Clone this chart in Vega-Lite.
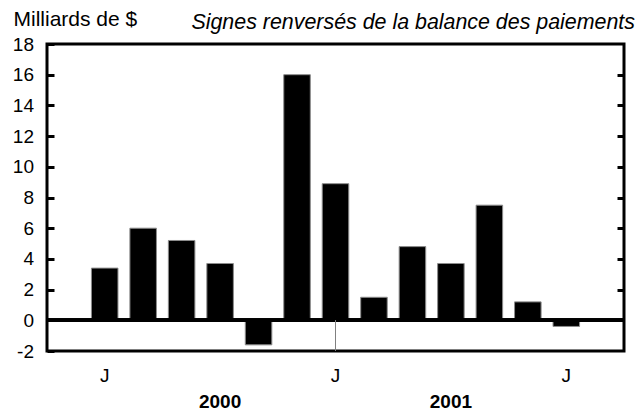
{
  "$schema": "https://vega.github.io/schema/vega-lite/v6.json",
  "autosize": "none",
  "width": 577,
  "height": 307,
  "padding": {"left": 47, "top": 44, "right": 13, "bottom": 63},
  "background": "white",
  "config": {
    "font": "Liberation Sans",
    "view": {"stroke": "black", "strokeWidth": 3},
    "axis": {"grid": false}
  },
  "title": {
    "text": "Signes renversés de la balance des paiements",
    "anchor": "end",
    "frame": "group",
    "fontSize": 21.4,
    "fontStyle": "italic",
    "fontWeight": "normal",
    "font": "Liberation Sans",
    "color": "black",
    "baseline": "alphabetic",
    "dx": 11,
    "dy": 17,
    "offset": -25
  },
  "data": {
    "values": [
      {"mois": "2000-07", "valeur": 3.4},
      {"mois": "2000-08", "valeur": 6.0},
      {"mois": "2000-09", "valeur": 5.2},
      {"mois": "2000-10", "valeur": 3.7},
      {"mois": "2000-11", "valeur": -1.6},
      {"mois": "2000-12", "valeur": 16.0},
      {"mois": "2001-01", "valeur": 8.9},
      {"mois": "2001-02", "valeur": 1.5},
      {"mois": "2001-03", "valeur": 4.8},
      {"mois": "2001-04", "valeur": 3.7},
      {"mois": "2001-05", "valeur": 7.5},
      {"mois": "2001-06", "valeur": 1.2},
      {"mois": "2001-07", "valeur": -0.4}
    ]
  },
  "layer": [
    {
      "mark": {"type": "bar", "color": "black", "stroke": "#8c8c8c", "strokeWidth": 1},
      "encoding": {
        "x": {
          "field": "mois",
          "type": "ordinal",
          "sort": null,
          "scale": {
            "domain": ["2000-06", "2000-07", "2000-08", "2000-09", "2000-10", "2000-11", "2000-12", "2001-01", "2001-02", "2001-03", "2001-04", "2001-05", "2001-06", "2001-07", "2001-08"],
            "paddingInner": 0.31,
            "paddingOuter": 0.155
          },
          "axis": {
            "title": null,
            "domain": false,
            "ticks": false,
            "labelAngle": 0,
            "labelFontSize": 19,
            "labelColor": "black",
            "labelLineHeight": 26,
            "labelPadding": 15,
            "labelBaseline": "top",
            "labelExpr": "datum.value == '2000-07' || datum.value == '2001-01' || datum.value == '2001-07' ? 'J' : datum.value == '2000-10' ? ['', '2000'] : datum.value == '2001-04' ? ['', '2001'] : ''",
            "labelFontWeight": {"condition": {"test": "datum.value == '2000-10' || datum.value == '2001-04'", "value": "bold"}, "value": "normal"}
          }
        },
        "y": {
          "field": "valeur",
          "type": "quantitative",
          "scale": {"domain": [-2, 18], "nice": false, "zero": false},
          "axis": {
            "values": [-2, 0, 2, 4, 6, 8, 10, 12, 14, 16, 18],
            "title": "Milliards de $",
            "titleAngle": 0,
            "titleAlign": "left",
            "titleBaseline": "alphabetic",
            "titleX": -34,
            "titleY": -19,
            "titleFontSize": 21,
            "titleFontWeight": "normal",
            "titleColor": "black",
            "domain": false,
            "ticks": true,
            "tickSize": -7,
            "tickWidth": 3,
            "tickColor": "black",
            "labelFontSize": 19,
            "labelColor": "black",
            "labelPadding": 20.5,
            "labelExpr": "'' + datum.value"
          }
        }
      }
    },
    {
      "mark": {"type": "rule", "color": "black", "strokeWidth": 3},
      "encoding": {
        "y": {
          "datum": 0,
          "type": "quantitative",
          "axis": {
            "orient": "right",
            "values": [2, 4, 6, 8, 10, 12, 14, 16],
            "title": null,
            "labels": false,
            "domain": false,
            "ticks": true,
            "tickSize": -7,
            "tickWidth": 3,
            "tickColor": "black"
          }
        }
      }
    },
    {
      "mark": {"type": "rule", "color": "#808080", "strokeWidth": 1},
      "encoding": {
        "x": {"datum": "2001-01", "type": "ordinal"},
        "y": {"datum": 0, "type": "quantitative", "axis": null},
        "y2": {"datum": -2}
      }
    }
  ],
  "resolve": {"axis": {"y": "independent"}}
}
